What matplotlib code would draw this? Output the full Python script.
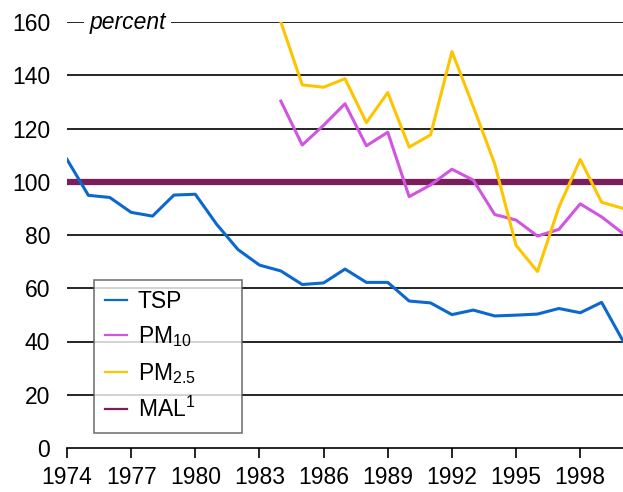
import matplotlib
matplotlib.use("Agg")
import matplotlib.pyplot as plt
import numpy as np

plt.rcParams['font.family'] = ['Liberation Sans', 'DejaVu Sans']
plt.rcParams['mathtext.default'] = 'regular'

years = list(range(1974, 2001))
tsp = [108.4, 94.9, 94.1, 88.5, 87.1, 95.0, 95.3, 84.0, 74.5, 68.7, 66.5, 61.4, 62.0,
       67.2, 62.2, 62.2, 55.2, 54.5, 50.1, 51.8, 49.6, 49.9, 50.3, 52.4, 50.8, 54.7, 40.2]
pm_years = list(range(1984, 2001))
pm10 = [130.3, 113.8, 121.2, 129.3, 113.5, 118.6, 94.4, 98.8, 104.7, 100.6, 87.7,
        85.6, 79.6, 82.1, 91.7, 86.8, 80.6]
pm25 = [160.0, 136.4, 135.5, 138.7, 122.2, 133.5, 113.0, 117.6, 148.9, 128.2, 106.7,
        76.1, 66.3, 90.4, 108.4, 92.3, 90.0]
mal = 100
xticks = list(range(1974, 2000, 3))
yticks = list(range(0, 161, 20))

fig = plt.figure(figsize=(6.23, 4.92), dpi=100)
ax = fig.add_axes([67/623, 44/492, 556/623, 426/492])

for y in yticks[1:]:
    ax.axhline(y, color='black', lw=1.2, zorder=1)

ax.axhline(mal, color='#7a1f5c', lw=4.5, zorder=3, label='MAL$^{1}$')
ax.plot(years, tsp, color='#0a68cf', lw=2.2, zorder=4, label='TSP')
ax.plot(pm_years, pm10, color='#d155e0', lw=2.2, zorder=4, label='PM$_{10}$')
ax.plot(pm_years, pm25, color='#ffc400', lw=2.2, zorder=4, label='PM$_{2.5}$')

ax.set_xlim(1974, 2000)
ax.set_ylim(0, 160)
ax.set_xticks(xticks)
ax.set_yticks(yticks)
ax.tick_params(axis='y', length=0, labelsize=16.5, pad=12)
ax.tick_params(axis='x', direction='out', length=7, width=1.2, labelsize=16.5, pad=6)
for s in ['top', 'right', 'left']:
    ax.spines[s].set_visible(False)
ax.spines['bottom'].set_linewidth(1.2)

ax.text(1975.05, 160, 'percent', style='italic', fontsize=16.5, va='center', ha='left',
        bbox=dict(facecolor='white', edgecolor='none', pad=4), zorder=5)

handles, labels = ax.get_legend_handles_labels()
order = [1, 2, 3, 0]
leg = ax.legend([handles[i] for i in order], [labels[i] for i in order],
                loc='lower left', bbox_to_anchor=(0.049, 0.036, 0.266, 0.366),
                mode='expand', fontsize=16.5,
                frameon=True, fancybox=False, handlelength=1.0, handletextpad=0.45,
                labelspacing=0.5, borderpad=0.45, borderaxespad=0)
leg.get_frame().set_edgecolor('#555555')
leg.get_frame().set_linewidth(1.2)
for h in leg.get_lines():
    h.set_linewidth(1.6)
leg.set_zorder(6)

fig.savefig('out.png', dpi=100)
